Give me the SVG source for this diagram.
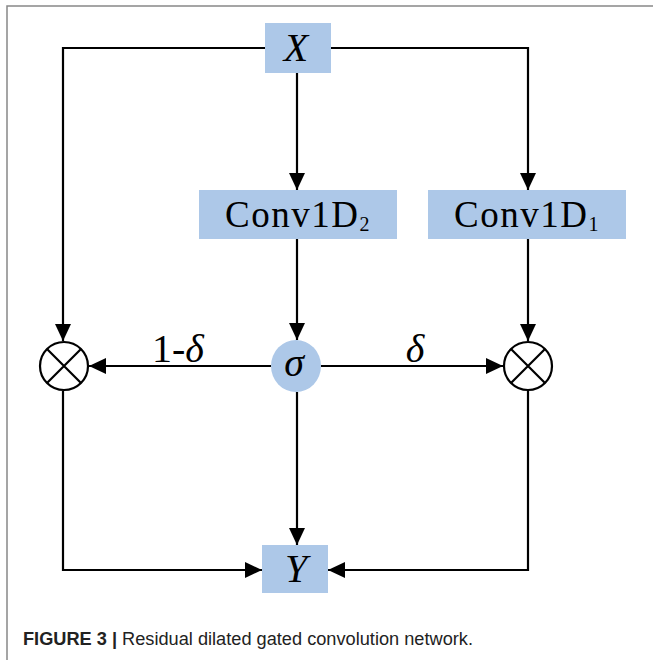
<svg xmlns="http://www.w3.org/2000/svg" width="653" height="660" viewBox="0 0 653 660">
<style>
.box{fill:#adc8e8;}
.ln{fill:none;stroke:#000;stroke-width:2.2;}
.it{font-family:"Liberation Serif","Times New Roman",serif;font-style:italic;fill:#000;}
.rm{font-family:"Liberation Serif","Times New Roman",serif;fill:#000;}
.cap{font-family:"Liberation Sans",Arial,sans-serif;font-size:17.5px;fill:#222;}
</style>
<defs>
<marker id="ah" markerUnits="userSpaceOnUse" markerWidth="18" markerHeight="18" refX="17" refY="9" orient="auto">
<path d="M0,1 L17,9 L0,17 z" fill="#000"/>
</marker>
</defs>
<rect width="653" height="660" fill="#fff"/>
<path d="M7,660 V6 H653" fill="none" stroke="#888" stroke-width="1.5"/>
<g id="connectors">
<path class="ln" d="M265,48 H63 V341" marker-end="url(#ah)"/>
<path class="ln" d="M331,48 H528 V190" marker-end="url(#ah)"/>
<path class="ln" d="M297,73 V190" marker-end="url(#ah)"/>
<path class="ln" d="M297,239 V340" marker-end="url(#ah)"/>
<path class="ln" d="M528,239 V341" marker-end="url(#ah)"/>
<path class="ln" d="M271,366 H89" marker-end="url(#ah)"/>
<path class="ln" d="M321,366 H503" marker-end="url(#ah)"/>
<path class="ln" d="M297,392 V545" marker-end="url(#ah)"/>
<path class="ln" d="M63,391 V570 H262" marker-end="url(#ah)"/>
<path class="ln" d="M528,391 V570 H328" marker-end="url(#ah)"/>
<text class="rm" x="152" y="362" font-size="40">1-<tspan class="it">δ</tspan></text>
<text class="it" x="415" y="362" font-size="40" text-anchor="middle">δ</text>
</g>
<g id="nodeX">
<rect class="box" x="265" y="23" width="66" height="50"/>
<text class="it" x="296" y="61" font-size="40" text-anchor="middle">X</text>
</g>
<g id="nodeConv2">
<rect class="box" x="199" y="190" width="198" height="49"/>
<text class="rm" x="298" y="227" font-size="37" text-anchor="middle" letter-spacing="1.5">Conv1D<tspan font-size="20" dy="4">2</tspan></text>
</g>
<g id="nodeConv1">
<rect class="box" x="428" y="190" width="198" height="49"/>
<text class="rm" x="527" y="227" font-size="37" text-anchor="middle" letter-spacing="1.5">Conv1D<tspan font-size="20" dy="4">1</tspan></text>
</g>
<g id="nodeMulL">
<circle cx="64" cy="366" r="24" fill="#fff" stroke="#000" stroke-width="2.2"/>
<path class="ln" d="M47,349 L81,383 M81,349 L47,383"/>
</g>
<g id="nodeSigma">
<ellipse class="box" cx="296" cy="366" rx="25" ry="26"/>
<text class="it" x="294" y="376" font-size="40" text-anchor="middle">σ</text>
</g>
<g id="nodeMulR">
<circle cx="528" cy="366" r="24" fill="#fff" stroke="#000" stroke-width="2.2"/>
<path class="ln" d="M511,349 L545,383 M545,349 L511,383"/>
</g>
<g id="nodeY">
<rect class="box" x="262" y="545" width="66" height="48"/>
<text class="it" x="296" y="582" font-size="40" text-anchor="middle">Y</text>
</g>
<text class="cap" x="23" y="645" textLength="450" lengthAdjust="spacingAndGlyphs"><tspan font-weight="bold">FIGURE 3 |</tspan> Residual dilated gated convolution network.</text>
</svg>
